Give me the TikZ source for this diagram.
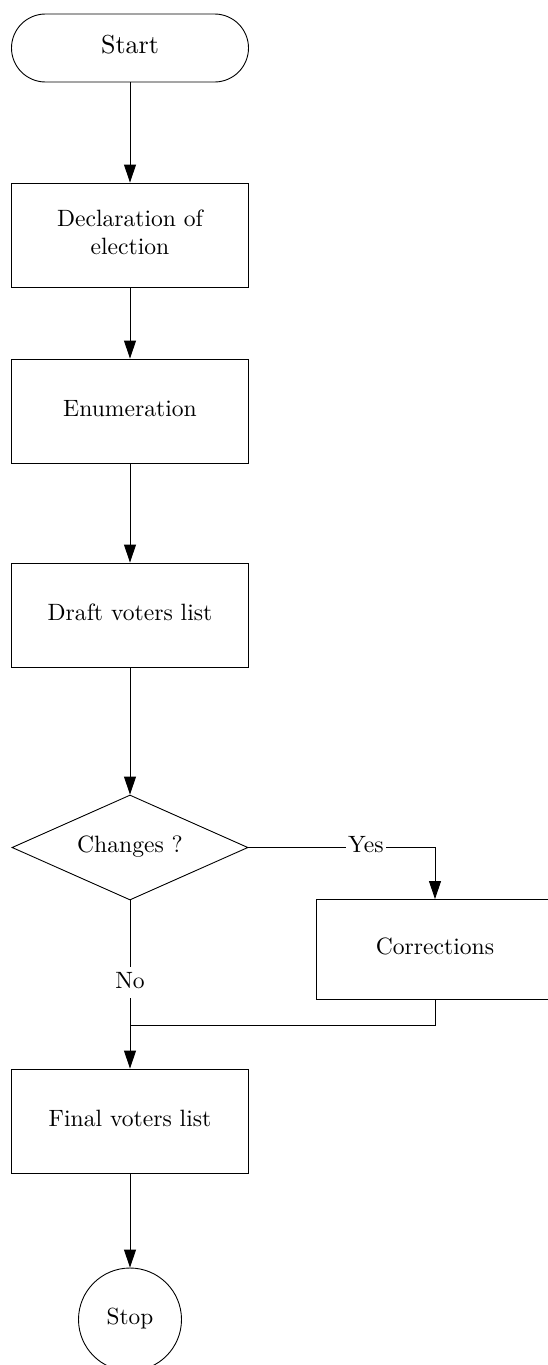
\documentclass[tikz,border=0pt]{standalone}
\usetikzlibrary{shapes.geometric,arrows.meta}
\newcommand{\txt}[2][2.36]{\scalebox{#1}{\begin{tabular}{@{}c@{}}#2\end{tabular}}}
\begin{document}
\begin{tikzpicture}[x=1pt,y=-1pt,
  every node/.style={font=\fontsize{10}{11.5}\selectfont},
  box/.style={draw,line width=0.9pt,minimum width=237pt,minimum height=104pt,inner sep=0pt,align=center},
  decision/.style={draw,line width=0.9pt,diamond,aspect=2.25,minimum width=236pt,minimum height=105pt,inner sep=0pt},
  conn/.style={line width=0.9pt},
  arr/.style={conn,-{Triangle[length=18pt,width=12pt]}},
  lbl/.style={fill=white,inner sep=2pt}]
\useasboundingbox (0,0) rectangle (548,1365);
\node[draw,line width=0.9pt,rounded corners=34pt,minimum width=237pt,minimum height=68pt,inner sep=0pt] (start) at (130,48) {\txt[2.6]{Start}};
\node[box] (decl) at (130,235) {\txt{Declaration of\\election}};
\node[box] (enum) at (130,411) {\txt{Enumeration}};
\node[box] (draft) at (130,615) {\txt{Draft voters list}};
\node[decision] (chg) at (130,847.5) {\txt{Changes ?}};
\node[box,minimum height=100pt] (corr) at (435,949.5) {\txt{Corrections}};
\coordinate (merge) at (130,1025);
\node[box] (final) at (130,1121) {\txt{Final voters list}};
\node[draw,line width=0.9pt,circle,minimum size=103pt,inner sep=0pt] (stop) at (130,1319.5) {\txt[2.33]{Stop}};
\draw[arr] (start) -- (decl);
\draw[arr] (decl) -- (enum);
\draw[arr] (enum) -- (draft);
\draw[arr] (draft) -- (chg);
\draw[arr] (chg.east) -- node[lbl,pos=0.63]{\txt{Yes}} (chg.east -| corr.north) -- (corr.north);
\draw[conn] (chg.south) -- node[lbl,pos=0.66]{\txt{No}} (merge);
\draw[conn] (corr.south) |- (merge);
\draw[arr] (merge) -- (final.north);
\draw[arr] (final) -- (stop);
\end{tikzpicture}
\end{document}
